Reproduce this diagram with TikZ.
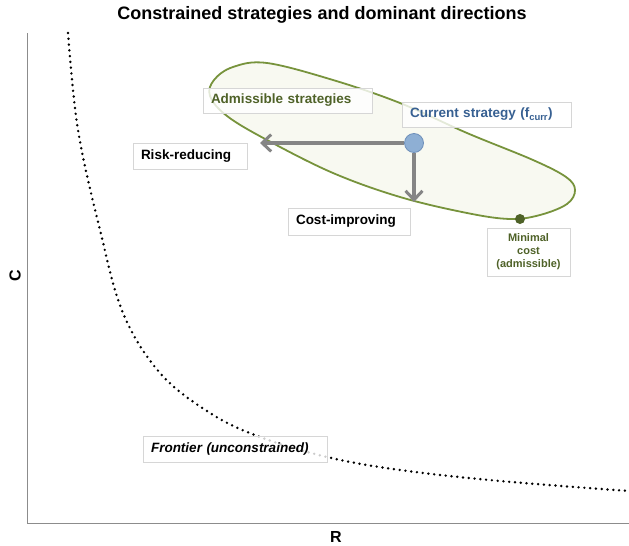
\documentclass[tikz,border=0pt]{standalone}
\usepackage{fontspec}
\setmainfont{Liberation Sans}
\usetikzlibrary{arrows.meta}
\definecolor{axisgray}{HTML}{8C8C8C}
\definecolor{olive}{HTML}{77933C}
\definecolor{darkolive}{HTML}{4F6228}
\definecolor{blobfill}{HTML}{F8F9F1}
\definecolor{curblue}{HTML}{376092}
\definecolor{dotblue}{HTML}{8EAFD4}
\definecolor{dotedge}{HTML}{6F90BA}
\definecolor{arrgray}{HTML}{858585}
\definecolor{boxedge}{HTML}{D6D6D6}
\begin{document}
\begin{tikzpicture}[x=1pt,y=-1pt,
  lbl/.style={draw=boxedge, line width=0.8pt, fill=white, fill opacity=0.8, text opacity=1,
    inner xsep=8pt, inner ysep=0pt, align=left, font=\bfseries\fontsize{13.5}{15}\selectfont,
    minimum height=#1},
  lbl/.default=26pt,
  dirarrow/.style={draw=arrgray, line width=3.5pt, -{Straight Barb[length=9pt,width=17pt,line width=3pt]}},
  frontier/.style={line width=2.7pt, line cap=round, dash pattern=on 0pt off 5.8pt},
]
\useasboundingbox (0,0) rectangle (629,546);
% title
\node[font=\bfseries\fontsize{18}{20}\selectfont] (title) at (322,15) {Constrained strategies and dominant directions};
% axes
\coordinate (ytop) at (27,33);
\coordinate (orig) at (27,523);
\coordinate (xend) at (629,523);
\draw[axisgray, line width=1pt] (ytop) -- (orig) -- (xend);
\node[font=\bfseries\fontsize{16}{18}\selectfont] (xlab) at (336,537) {R};
\node[font=\bfseries\fontsize{16}{18}\selectfont, rotate=90] (ylab) at (15,276) {C};
% frontier
\draw[frontier] plot[smooth, tension=0.6] coordinates {(68,33) (78,130) (100,230) (123,313) (160,373) (210,413) (260,437) (327,457) (400,470) (500,481) (629,491)};
% admissible set
\filldraw[draw=olive, fill=blobfill, line width=1.8pt] plot[smooth cycle, tension=0.6] coordinates {
 (233,67) (267,63) (333,80) (400,103) (467,133) (533,160) (566,177) (575,190)
 (567,204) (540,215) (510,219) (467,213) (400,197) (333,173) (267,140) (227,116) (210,96) (214,80)};
% labels
\node[lbl=25pt, text width=153pt, text=darkolive] (adm) at (287.5,100.5) {Admissible strategies};
\node[lbl=25pt, text width=153pt, text=curblue] (cur) at (486.5,114.5) {Current strategy (f\textsubscript{curr})};
% current strategy and directions
\node[circle, fill=dotblue, draw=dotedge, line width=0.8pt, minimum size=19pt, inner sep=0pt] (fc) at (414,143) {};
\coordinate (rtip) at (260,143);
\coordinate (ctip) at (414,202);
\draw[dirarrow] (fc.west) -- (rtip);
\draw[dirarrow] (fc.south) -- (ctip);
\node[lbl=26pt, text width=98pt] (risk) at (190,156) {Risk-reducing};
\node[lbl=27pt, text width=106pt] (cost) at (349,221.5) {Cost-improving};
% minimal cost
\node[circle, fill=darkolive, minimum size=10pt, inner sep=0pt] (minc) at (520,219) {};
\node[draw=boxedge, line width=0.8pt, fill=white, minimum width=83pt, minimum height=48pt, inner sep=2pt,
  align=center, text=darkolive, font=\bfseries\fontsize{11}{13}\selectfont] (minlab) at (528.5,252) {Minimal\\cost\\(admissible)};
% frontier label
\node[lbl=26pt, text width=168pt, font=\bfseries\itshape\fontsize{13.5}{15}\selectfont] (front) at (235,449) {Frontier (unconstrained)};
\end{tikzpicture}
\end{document}
